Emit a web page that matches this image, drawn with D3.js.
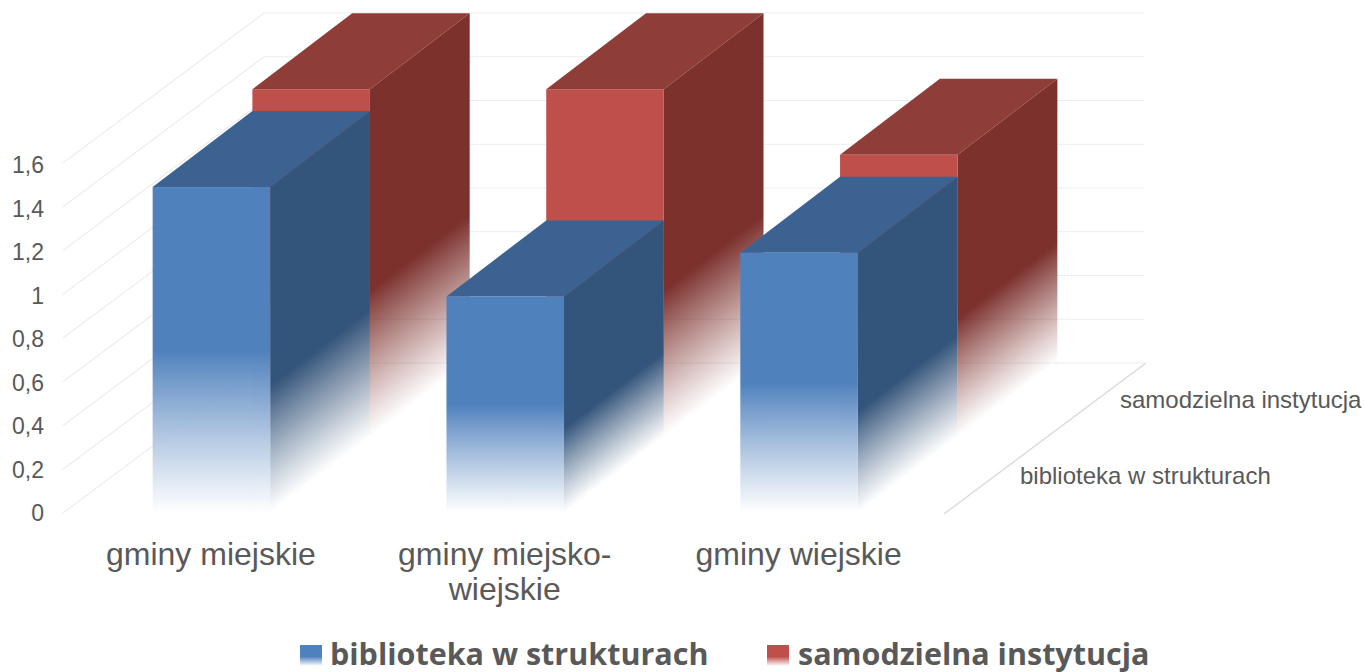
<!DOCTYPE html>
<html><head><meta charset="utf-8">
<script src="https://cdn.jsdelivr.net/npm/d3@7"></script>
<style>html,body{margin:0;padding:0;background:#fff;overflow:hidden}svg{display:block}</style>
</head><body><svg id="c" width="1364" height="672"></svg>
<script>
const categories = ["gminy miejskie", "gminy miejsko-wiejskie", "gminy wiejskie"];
const categoryLines = [["gminy miejskie"], ["gminy miejsko-", "wiejskie"], ["gminy wiejskie"]];
const seriesNames = ["biblioteka w strukturach", "samodzielna instytucja"];
const bibliotekaValues = [1.49, 0.99, 1.19];
const samodzielnaValues = [1.59, 1.59, 1.29];
const yTicks = [0, 0.2, 0.4, 0.6, 0.8, 1, 1.2, 1.4, 1.6];

const svg = d3.select("#c");
const defs = svg.append("defs");
const y = d3.scaleLinear().domain([0, 1.6]).range([513, 163]);
const yLabel = d3.scaleLinear().domain([0, 1.6]).range([513, 165]);
const x = d3.scaleBand().domain(categories).range([64.5, 946]).paddingInner(0.6).paddingOuter(0.3);
const depth = d3.scalePoint().domain([0, 1, 2]).range([0, 1]);
const DX = 199.5, DY = 152;
const font = "'Liberation Sans', Arial, sans-serif";
const textCol = "#595959";

// grid
const gx = 201, gy = 150;
const grid = svg.append("g");
yTicks.forEach(t => {
  const y0 = y(t);
  grid.append("path")
    .attr("d", `M63,${y0}L${63 + gx},${y0 - gy}L${63 + gx + 880},${y0 - gy}`)
    .attr("fill", "none").attr("stroke", "#ededed").attr("stroke-width", 1.2);
});
svg.append("line").attr("x1", 944).attr("y1", y(0) + 1).attr("x2", 944 + gx + 1).attr("y2", y(0) - gy)
  .attr("stroke", "#d9d9d9").attr("stroke-width", 1.3);

function fadeGrad(id, col, x1, y1, x2, y2, start) {
  const g = defs.append("linearGradient").attr("id", id).attr("gradientUnits", "userSpaceOnUse")
    .attr("x1", x1).attr("y1", y1).attr("x2", x2).attr("y2", y2);
  g.append("stop").attr("offset", 0).attr("stop-color", col);
  g.append("stop").attr("offset", start).attr("stop-color", col);
  g.append("stop").attr("offset", 1).attr("stop-color", "#fff").attr("stop-opacity", 0.88);
}

function drawSeries(vals, slice, colors, name, sideStart) {
  const dx = DX * slice.len, dy = DY * slice.len;
  const sx = DX * slice.at, sy = DY * slice.at;
  const g = svg.append("g");
  vals.forEach((v, i) => {
    const xl = x(categories[i]) + sx, xr = xl + x.bandwidth();
    const base = y(0) - sy, top = y(v) - sy;
    const h = base - top;
    fadeGrad(`${name}f${i}`, colors.front, xl, top, xl, base, 0.5);
    const n = [DY, DX].map(c => c / Math.hypot(DX, DY));
    const span = h * n[1];
    fadeGrad(`${name}s${i}`, colors.side, xr, top, xr + span * n[0], top + span * n[1], sideStart);
    g.append("path").attr("d", `M${xl},${top}L${xr},${top}L${xr + dx},${top - dy}L${xl + dx},${top - dy}Z`).attr("fill", colors.top);
    g.append("path").attr("d", `M${xr},${top}L${xr + dx},${top - dy}L${xr + dx},${base - dy}L${xr},${base}Z`).attr("fill", `url(#${name}s${i})`);
    g.append("rect").attr("x", xl).attr("y", top).attr("width", xr - xl).attr("height", h).attr("fill", `url(#${name}f${i})`);
  });
}
const blue = { front: "#4f81bd", top: "#3c6291", side: "#34557b" };
const red = { front: "#be4f4b", top: "#8f3d39", side: "#7c312d" };
drawSeries(samodzielnaValues, { at: depth(1), len: 0.5 }, red, "r", 0.58);
// back-wall lines that show faintly through the faded red sides
[0, 0.2].forEach(t => {
  svg.append("line").attr("x1", 264).attr("x2", 1058).attr("y1", y(t) - gy).attr("y2", y(t) - gy)
    .attr("stroke", "#000").attr("stroke-opacity", 0.05).attr("stroke-width", 1.2);
});
drawSeries(bibliotekaValues, { at: depth(0), len: 0.5 }, blue, "b", 0.61);

// y axis
const ya = svg.append("g").attr("font-family", font).attr("font-size", 23).attr("fill", textCol).attr("text-anchor", "end");
yTicks.forEach(t => {
  ya.append("text").attr("x", 44).attr("y", yLabel(t) + 8).text(String(t).replace(".", ","));
});

// category labels
const ca = svg.append("g").attr("font-family", font).attr("font-size", 32).attr("fill", textCol).attr("text-anchor", "middle");
categories.forEach((c, i) => {
  const cx = x(c) + x.bandwidth() / 2 - 0.5;
  categoryLines[i].forEach((l, j) => ca.append("text").attr("x", cx).attr("y", 565 + j * 35).text(l));
});

// depth labels
const da = svg.append("g").attr("font-family", font).attr("font-size", 24).attr("fill", textCol);
da.append("text").attr("x", 1020).attr("y", 484).text(seriesNames[0]);
da.append("text").attr("x", 1120).attr("y", 408).text(seriesNames[1]);

// legend
const lg = svg.append("g");
[[300, 330, blue.front], [767, 798, red.front]].forEach(([sxp, tx, col], i) => {
  const id = "lg" + i;
  const g = defs.append("linearGradient").attr("id", id).attr("x1", 0).attr("y1", 0).attr("x2", 0).attr("y2", 1);
  g.append("stop").attr("offset", 0.55).attr("stop-color", col);
  g.append("stop").attr("offset", 1).attr("stop-color", "#fff");
  lg.append("rect").attr("x", sxp).attr("y", 645).attr("width", 22).attr("height", 21).attr("fill", `url(#${id})`);
  lg.append("text").attr("x", tx).attr("y", 664.5).attr("font-family", "'Open Sans', sans-serif").attr("font-weight", 700)
    .attr("font-size", 30.5).attr("fill", textCol).text(seriesNames[i]);
});
</script></body></html>
